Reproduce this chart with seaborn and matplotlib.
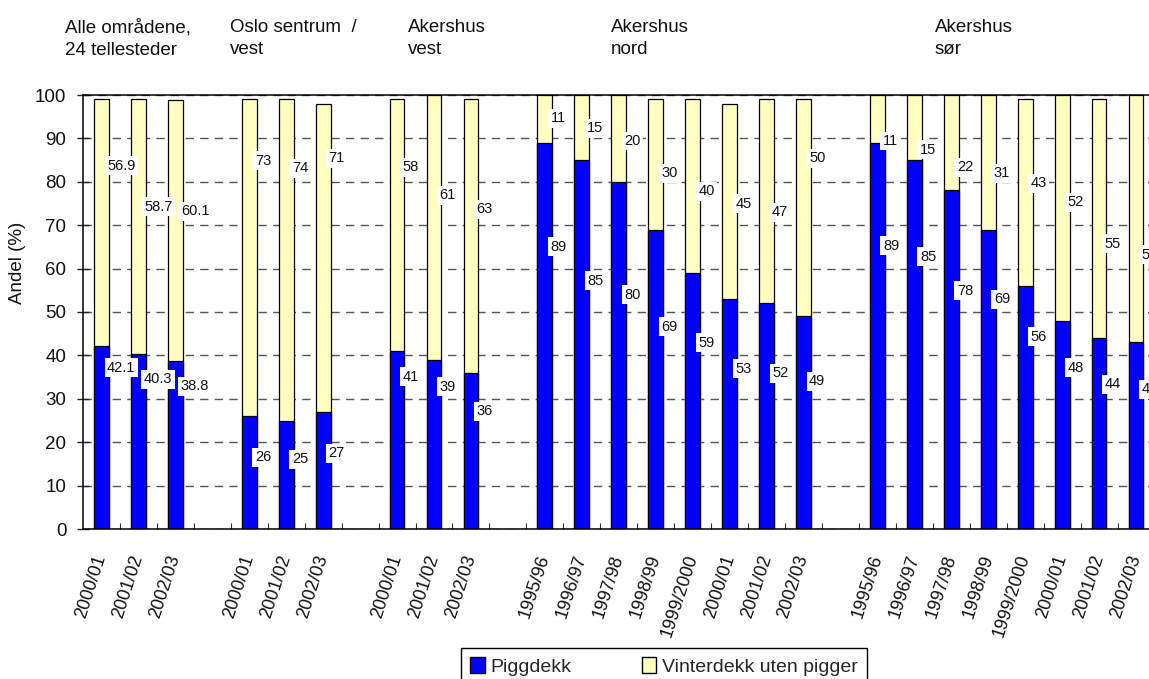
import numpy as np
import pandas as pd
import matplotlib
matplotlib.use("Agg")
import matplotlib.pyplot as plt
from matplotlib import font_manager
from matplotlib.patches import Patch
import seaborn as sns

sns.set_style("white")

names = {f.name for f in font_manager.fontManager.ttflist}
narrow = "Liberation Sans Narrow" if "Liberation Sans Narrow" in names else "Liberation Sans"
plt.rcParams["font.family"] = [narrow, "DejaVu Sans"]

# --- data ------------------------------------------------------------------
omraader = ["Alle områdene,\n24 tellesteder", "Oslo sentrum  /\nvest",
            "Akershus\nvest", "Akershus\nnord", "Akershus\nsør"]

seasons_3 = ["2000/01", "2001/02", "2002/03"]
seasons_8 = ["1995/96", "1996/97", "1997/98", "1998/99",
             "1999/2000", "2000/01", "2001/02", "2002/03"]
sesonger = [seasons_3, seasons_3, seasons_3, seasons_8, seasons_8]

piggdekk = [[42.1, 40.3, 38.8],
            [26, 25, 27],
            [41, 39, 36],
            [89, 85, 80, 69, 59, 53, 52, 49],
            [89, 85, 78, 69, 56, 48, 44, 43]]
vinterdekk = [[56.9, 58.7, 60.1],
              [73, 74, 71],
              [58, 61, 63],
              [11, 15, 20, 30, 40, 45, 47, 50],
              [11, 15, 22, 31, 43, 52, 55, 57]]

# where the data labels sit (value axis), as placed in the original
lab_pigg_y = [[37.2, 34.5, 32.9],
              [16.5, 16.1, 17.5],
              [35.1, 32.8, 27.1],
              [65.0, 57.2, 54.0, 46.6, 42.9, 36.9, 35.9, 34.0],
              [65.3, 62.7, 54.9, 52.9, 44.3, 37.2, 33.3, 32.2]]
lab_vinter_y = [[83.7, 74.3, 73.2],
                [84.8, 83.1, 85.4],
                [83.4, 76.9, 73.7],
                [94.6, 92.3, 89.4, 82.0, 77.8, 74.9, 73.0, 85.4],
                [89.4, 87.4, 83.4, 82.0, 79.7, 75.3, 65.7, 63.2]]

# --- tidy table, one empty slot between areas --------------------------------
rows = []
slot = 0
for g, omr in enumerate(omraader):
    for i, s in enumerate(sesonger[g]):
        rows.append(dict(omraade=omr, sesong=s, pos=slot,
                         pigg=piggdekk[g][i], vinter=vinterdekk[g][i],
                         ly_p=lab_pigg_y[g][i], ly_v=lab_vinter_y[g][i]))
        slot += 1
    slot += 1
df = pd.DataFrame(rows)
df["total"] = df["pigg"] + df["vinter"]

BLUE = "#0000FF"
YELLOW = "#FFFFC0"

fig = plt.figure(figsize=(11.49, 6.79), dpi=100)
ax = fig.add_axes([83 / 1149, 1 - 529 / 679, 1090 / 1149, 434 / 679])

sns.barplot(data=df, x="pos", y="total", native_scale=True, orient="x",
            width=0.4, color=YELLOW, saturation=1, edgecolor="black",
            linewidth=0.9, errorbar=None, ax=ax)
sns.barplot(data=df, x="pos", y="pigg", native_scale=True, orient="x",
            width=0.4, color=BLUE, saturation=1, edgecolor="black",
            linewidth=0.9, errorbar=None, ax=ax)

# data labels
for _, r in df.iterrows():
    for val, yy in ((r["pigg"], r["ly_p"]), (r["vinter"], r["ly_v"])):
        ax.text(r["pos"] + 0.15, yy, f"{val:g}", ha="left", va="center",
                fontsize=10.5, family=["Liberation Sans", "DejaVu Sans"],
                color="#111111", zorder=5,
                bbox=dict(facecolor="white", edgecolor="none", pad=1.8))

ax.set_xlim(-0.5, 29.0)
ax.set_ylim(0, 100)
ax.set_yticks(np.arange(0, 101, 10))
ax.set_xticks(df["pos"], labels=df["sesong"])
ax.set_xticks(np.arange(0.5, 29, 1.0), minor=True)
for lab in ax.get_xticklabels():
    lab.set_rotation(72)
    lab.set_ha("right")
    lab.set_va("center")
    lab.set_rotation_mode("anchor")
ax.tick_params(axis="x", which="major", length=0, pad=19, labelsize=13,
               labelcolor="#111111")
ax.tick_params(axis="x", which="minor", direction="in", length=4.5,
               width=0.8, color="#333333", bottom=True)
ax.tick_params(axis="y", direction="inout", length=8, width=1, pad=8,
               labelsize=13.5, left=True, labelcolor="#111111")

ax.set_axisbelow(True)
ax.yaxis.grid(True, color="#555555", linewidth=1.0, linestyle=(0, (6, 4.5)))
ax.xaxis.grid(False)
for side in ("left", "bottom", "top"):
    ax.spines[side].set_visible(True)
    ax.spines[side].set_color("black")
    ax.spines[side].set_linewidth(1.1)
ax.spines["right"].set_visible(False)
ax.set_xlabel("")
ax.set_ylabel("")

fig.text(18 / 1149, 1 - 263 / 679, "Andel (%)", rotation=90, ha="center",
         va="center", fontsize=13.5, color="#111111")

# area headers above the plot
header_x = [65, 230, 408, 611, 935]
for hx, txt in zip(header_x, omraader):
    fig.text(hx / 1149, 1 - 19 / 679, txt, ha="left", va="top", fontsize=13.5,
             color="#111111", linespacing=1.4)

handles = [Patch(facecolor=BLUE, edgecolor="black", label="Piggdekk"),
           Patch(facecolor=YELLOW, edgecolor="black", label="Vinterdekk uten pigger")]
leg = fig.legend(handles=handles, loc="upper center",
                 bbox_to_anchor=(664 / 1149, 1 - 648 / 679), ncol=2,
                 frameon=True, fancybox=False, edgecolor="black", framealpha=1,
                 fontsize=14, handlelength=0.75, handleheight=0.9,
                 handletextpad=0.3, columnspacing=3.6, borderpad=0.45,
                 borderaxespad=0)
leg.get_frame().set_linewidth(1.0)

fig.savefig("out.png", dpi=100)
